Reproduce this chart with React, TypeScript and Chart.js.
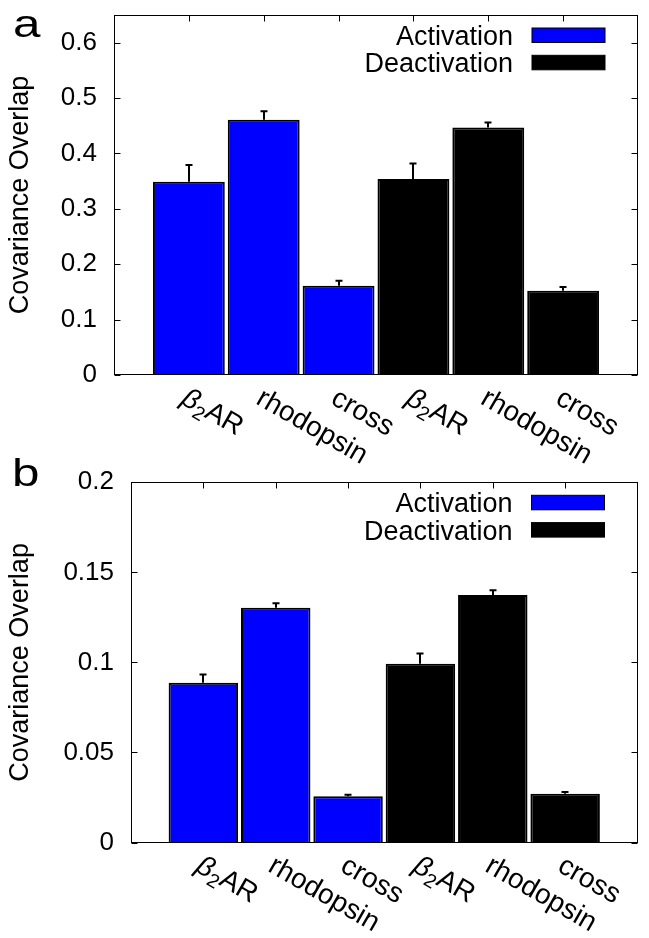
import React, { useEffect, useRef } from "react";
import { Chart, registerables } from "chart.js";

Chart.register(...registerables);

const FONT_FAMILY = "'Liberation Sans', Arial, Helvetica, sans-serif";

// ---------- data ----------
const categories = ["β₂AR", "rhodopsin", "cross", "β₂AR", "rhodopsin", "cross"];
const seriesNames = ["Activation", "Deactivation"];
const seriesColors = ["#0000ff", "#000000"];
const activationCategoryIndex = [0, 1, 2];
const deactivationCategoryIndex = [3, 4, 5];
const yAxisTitle = "Covariance Overlap";

const panelALetter = "a";
const panelAActivation = [0.349, 0.461, 0.161];
const panelAActivationErr = [0.03, 0.015, 0.009];
const panelADeactivation = [0.354, 0.447, 0.152];
const panelADeactivationErr = [0.028, 0.009, 0.007];
const panelAYMax = 0.65;
const panelAYStep = 0.1;

const panelBLetter = "b";
const panelBActivation = [0.0887, 0.1303, 0.0257];
const panelBActivationErr = [0.0046, 0.0026, 0.0008];
const panelBDeactivation = [0.0992, 0.1374, 0.027];
const panelBDeactivationErr = [0.0058, 0.0026, 0.001];
const panelBYMax = 0.2;
const panelBYStep = 0.05;

// ---------- layout ----------
const CANVAS_W = 649;
const layoutA = { top: 0, height: 480, chartTop: 15, chartBottom: 375, chartLeft: 114, chartRight: 638, letterX: 13, letterY: 37 };
const layoutB = { top: 440, height: 498, chartTop: 42.3, chartBottom: 402.5, chartLeft: 131, chartRight: 637.5, letterX: 12, letterY: 46 };
const TICK = 6;
const LABEL_SIZE = 28;
const LEGEND_SIZE = 27;
const TICK_FONT = 26;
const TITLE_FONT = 27;
const LETTER_SIZE = 38;

const SUBS = "₀₁₂₃₄₅₆₇₈₉";
function splitRich(text: string) {
  const segs: { kind: string; t: string }[] = [];
  for (const ch of text) {
    let kind = "n";
    let t = ch;
    const si = SUBS.indexOf(ch);
    if (si >= 0) {
      kind = "s";
      t = String(si);
    } else if (/[\u0370-\u03ff]/.test(ch)) kind = "g";
    const last = segs[segs.length - 1];
    if (last && last.kind === kind) last.t += t;
    else segs.push({ kind, t });
  }
  return segs;
}

function drawRich(ctx: CanvasRenderingContext2D, text: string, size: number) {
  let x = 0;
  for (const s of splitRich(text)) {
    const fs = s.kind === "s" ? size * 0.7 : size;
    ctx.font = `${s.kind === "g" ? "italic " : ""}${fs}px ${FONT_FAMILY}`;
    const dy = s.kind === "s" ? size * 0.22 : 0;
    ctx.fillText(s.t, x, dy);
    x += ctx.measureText(s.t).width;
  }
}

function fmt(v: number) {
  return String(Math.round(v * 1000) / 1000);
}

function decorPlugin(letter: string, lay: any) {
  return {
    id: "panelDecor",
    beforeDatasetsDraw(chart: any) {
      const { ctx, chartArea: ca, scales } = chart;
      const xs = scales.x;
      ctx.save();
      ctx.strokeStyle = "#000";
      ctx.lineWidth = 1;
      categories.forEach((_, i) => {
        const px = Math.round(xs.getPixelForValue(i + 1)) + 0.5;
        ctx.beginPath();
        ctx.moveTo(px, ca.bottom);
        ctx.lineTo(px, ca.bottom - TICK);
        ctx.stroke();
      });
      ctx.restore();
    },
    afterDatasetsDraw(chart: any) {
      const { ctx, chartArea: ca, scales } = chart;
      const xs = scales.x;
      const ys = scales.y;
      ctx.save();
      // error bars
      ctx.strokeStyle = "#000";
      ctx.lineWidth = 2;
      chart.data.datasets.forEach((ds: any, di: number) => {
        const meta = chart.getDatasetMeta(di);
        meta.data.forEach((el: any, i: number) => {
          const v = ds.data[i].y;
          const e = ds.errors[i];
          const px = Math.round(el.x);
          const yVal = ys.getPixelForValue(v);
          const yTop = ys.getPixelForValue(v + e);
          ctx.beginPath();
          ctx.moveTo(px, yVal);
          ctx.lineTo(px, yTop);
          ctx.moveTo(px - 3.5, yTop);
          ctx.lineTo(px + 3.5, yTop);
          ctx.stroke();
        });
      });
      // frame
      ctx.lineWidth = 1;
      const l = Math.round(ca.left) + 0.5;
      const r = Math.round(ca.right) - 0.5;
      const t = Math.round(ca.top) + 0.5;
      const b = Math.round(ca.bottom) - 0.5;
      ctx.strokeRect(l, t, r - l, b - t);
      // inward ticks
      ys.ticks.forEach((tk: any) => {
        const py = Math.round(ys.getPixelForValue(tk.value)) + 0.5;
        ctx.beginPath();
        ctx.moveTo(l, py);
        ctx.lineTo(l + TICK, py);
        ctx.moveTo(r, py);
        ctx.lineTo(r - TICK, py);
        ctx.stroke();
      });
      categories.forEach((_, i) => {
        const px = Math.round(xs.getPixelForValue(i + 1)) + 0.5;
        ctx.beginPath();
        ctx.moveTo(px, t);
        ctx.lineTo(px, t + TICK);
        ctx.stroke();
      });
      // legend
      chart.data.datasets.forEach((ds: any, i: number) => {
        const boxTop = ca.top + 13 + i * 27.3;
        const boxH = 14.5;
        const bx = ca.right - 106;
        ctx.fillStyle = ds.backgroundColor;
        ctx.fillRect(bx, boxTop, 73, boxH);
        ctx.strokeStyle = "#000";
        ctx.lineWidth = 1;
        ctx.strokeRect(bx, boxTop, 73, boxH);
        ctx.fillStyle = "#000";
        ctx.font = `${LEGEND_SIZE}px ${FONT_FAMILY}`;
        ctx.textAlign = "right";
        ctx.textBaseline = "alphabetic";
        ctx.fillText(ds.label, ca.right - 125, boxTop + boxH / 2 + 0.36 * LEGEND_SIZE);
      });
      // x category labels, rotated
      ctx.fillStyle = "#000";
      ctx.textAlign = "left";
      ctx.textBaseline = "alphabetic";
      categories.forEach((c, i) => {
        const px = xs.getPixelForValue(i + 1);
        ctx.save();
        ctx.translate(px - 9, ca.bottom + 28);
        ctx.rotate(Math.PI / 6);
        drawRich(ctx, c, LABEL_SIZE);
        ctx.restore();
      });
      // panel letter
      ctx.save();
      ctx.font = `${LETTER_SIZE}px ${FONT_FAMILY}`;
      ctx.textAlign = "left";
      ctx.translate(lay.letterX, lay.letterY);
      ctx.scale(1.3, 1);
      ctx.fillText(letter, 0, 0);
      ctx.restore();
      ctx.restore();
    },
  };
}

function Panel(props: {
  letter: string;
  act: number[];
  actErr: number[];
  deact: number[];
  deactErr: number[];
  yMax: number;
  yStep: number;
  lay: any;
}) {
  const ref = useRef<HTMLCanvasElement | null>(null);
  useEffect(() => {
    if (!ref.current) return;
    const { lay } = props;
    const chart = new Chart(ref.current, {
      type: "bar",
      data: {
        datasets: [
          {
            label: seriesNames[0],
            data: props.act.map((v, i) => ({ x: activationCategoryIndex[i] + 1, y: v })),
            errors: props.actErr,
            backgroundColor: seriesColors[0],
            borderColor: "#000",
            borderWidth: 2,
            grouped: false,
            categoryPercentage: 1,
            barPercentage: 0.96,
          } as any,
          {
            label: seriesNames[1],
            data: props.deact.map((v, i) => ({ x: deactivationCategoryIndex[i] + 1, y: v })),
            errors: props.deactErr,
            backgroundColor: seriesColors[1],
            borderColor: "#000",
            borderWidth: 2,
            grouped: false,
            categoryPercentage: 1,
            barPercentage: 0.96,
          } as any,
        ],
      },
      options: {
        responsive: false,
        animation: false,
        font: { family: FONT_FAMILY },
        layout: { padding: { left: 0, top: lay.chartTop, right: CANVAS_W - lay.chartRight, bottom: 0 } },
        scales: {
          x: {
            type: "linear",
            min: 0,
            max: categories.length + 1,
            offset: false,
            ticks: { display: false, stepSize: 1 },
            grid: { display: false, offset: false },
            border: { display: false },
            afterFit: (s: any) => {
              s.height = lay.height - lay.chartBottom;
              s.paddingLeft = 0;
              s.paddingRight = 0;
            },
          },
          y: {
            type: "linear",
            min: 0,
            max: props.yMax,
            ticks: {
              stepSize: props.yStep,
              includeBounds: false,
              padding: 17,
              color: "#000",
              font: { size: TICK_FONT, family: FONT_FAMILY },
              callback: (v: any) => fmt(Number(v)),
            },
            grid: { display: false, drawTicks: false },
            border: { display: false },
            title: {
              display: true,
              text: yAxisTitle,
              color: "#000",
              font: { size: TITLE_FONT, family: FONT_FAMILY },
              padding: { top: 4, bottom: 0 },
            },
            afterFit: (s: any) => {
              s.width = lay.chartLeft;
              s.paddingTop = 0;
              s.paddingBottom = 0;
            },
          },
        },
        plugins: { legend: { display: false }, tooltip: { enabled: false } },
      } as any,
      plugins: [decorPlugin(props.letter, lay)],
    });
    return () => chart.destroy();
  }, []);
  return (
    <canvas
      ref={ref}
      width={CANVAS_W}
      height={props.lay.height}
      style={{ position: "absolute", left: 0, top: props.lay.top, width: CANVAS_W, height: props.lay.height }}
    />
  );
}

export default function App() {
  useEffect(() => {
    document.body.style.margin = "0";
  }, []);
  return (
    <div style={{ position: "relative", width: CANVAS_W, height: 938, background: "#fff", overflow: "hidden" }}>
      <Panel
        letter={panelALetter}
        act={panelAActivation}
        actErr={panelAActivationErr}
        deact={panelADeactivation}
        deactErr={panelADeactivationErr}
        yMax={panelAYMax}
        yStep={panelAYStep}
        lay={layoutA}
      />
      <Panel
        letter={panelBLetter}
        act={panelBActivation}
        actErr={panelBActivationErr}
        deact={panelBDeactivation}
        deactErr={panelBDeactivationErr}
        yMax={panelBYMax}
        yStep={panelBYStep}
        lay={layoutB}
      />
    </div>
  );
}
